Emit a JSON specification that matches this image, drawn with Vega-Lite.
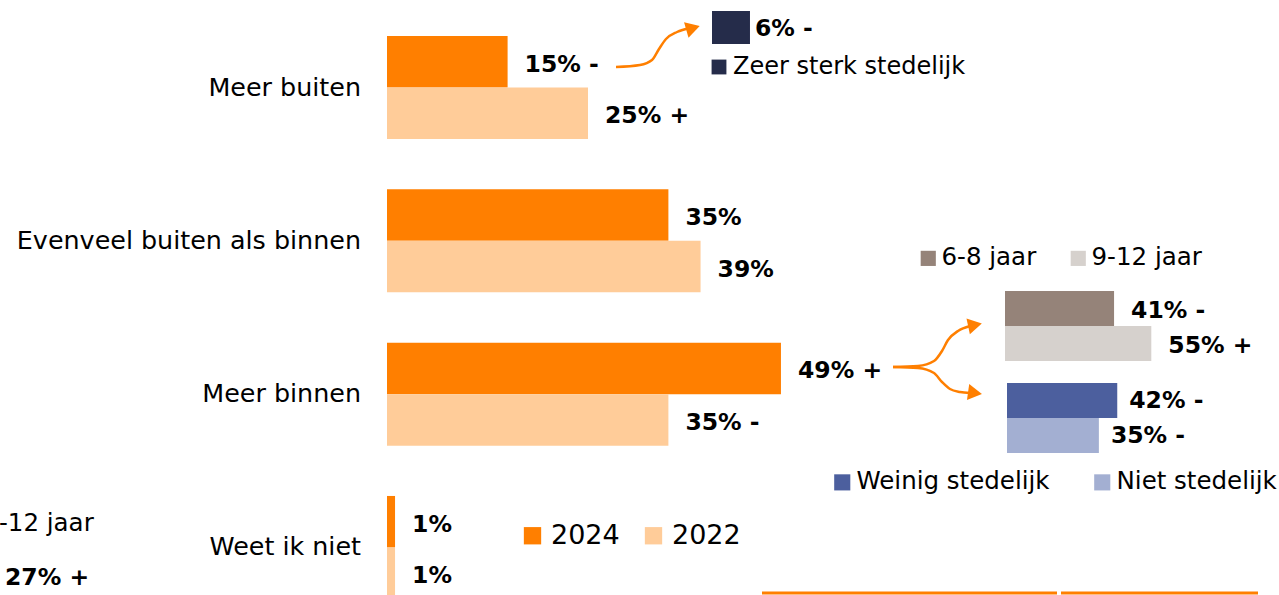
{
  "$schema": "https://vega.github.io/schema/vega-lite/v6.json",
  "width": 1279,
  "height": 595,
  "padding": 0,
  "autosize": {"type": "none"},
  "background": "#ffffff",
  "config": {
    "view": {"stroke": null},
    "font": "DejaVu Sans",
    "text": {"font": "DejaVu Sans", "color": "#000000"},
    "legend": {"labelFont": "DejaVu Sans", "labelColor": "#000000", "padding": 0, "symbolStrokeWidth": 0, "symbolOpacity": 1, "symbolType": "square", "title": null, "orient": "none", "direction": "horizontal", "labelLimit": 0}
  },
  "datasets": {
    "main": [
      {"answer": "Meer buiten", "year": "2024", "value": 15, "label": "15% -"},
      {"answer": "Meer buiten", "year": "2022", "value": 25, "label": "25% +"},
      {"answer": "Evenveel buiten als binnen", "year": "2024", "value": 35, "label": "35%"},
      {"answer": "Evenveel buiten als binnen", "year": "2022", "value": 39, "label": "39%"},
      {"answer": "Meer binnen", "year": "2024", "value": 49, "label": "49% +"},
      {"answer": "Meer binnen", "year": "2022", "value": 35, "label": "35% -"},
      {"answer": "Weet ik niet", "year": "2024", "value": 1, "label": "1%"},
      {"answer": "Weet ik niet", "year": "2022", "value": 1, "label": "1%"}
    ],
    "age": [
      {"group": "6-8 jaar", "value": 41, "label": "41% -"},
      {"group": "9-12 jaar", "value": 55, "label": "55% +"}
    ],
    "urban": [
      {"group": "Weinig stedelijk", "value": 42, "label": "42% -"},
      {"group": "Niet stedelijk", "value": 35, "label": "35% -"}
    ],
    "zeer": [
      {"group": "Zeer sterk stedelijk", "value": 6, "label": "6% -"}
    ],
    "arrows": [
      {"arrow": "a1", "i": 1, "px": 616, "py": 67},
      {"arrow": "a1", "i": 2, "px": 640, "py": 65},
      {"arrow": "a1", "i": 3, "px": 652, "py": 60},
      {"arrow": "a1", "i": 4, "px": 659, "py": 49},
      {"arrow": "a1", "i": 5, "px": 666, "py": 39},
      {"arrow": "a1", "i": 6, "px": 677, "py": 32},
      {"arrow": "a1", "i": 7, "px": 690, "py": 28},
      {"arrow": "a2", "i": 1, "px": 893, "py": 367},
      {"arrow": "a2", "i": 2, "px": 918, "py": 366},
      {"arrow": "a2", "i": 3, "px": 934, "py": 361},
      {"arrow": "a2", "i": 4, "px": 942, "py": 351},
      {"arrow": "a2", "i": 5, "px": 948, "py": 340},
      {"arrow": "a2", "i": 6, "px": 958, "py": 331},
      {"arrow": "a2", "i": 7, "px": 970, "py": 326},
      {"arrow": "a3", "i": 1, "px": 893, "py": 367},
      {"arrow": "a3", "i": 2, "px": 918, "py": 368},
      {"arrow": "a3", "i": 3, "px": 934, "py": 373},
      {"arrow": "a3", "i": 4, "px": 942, "py": 382},
      {"arrow": "a3", "i": 5, "px": 950, "py": 389},
      {"arrow": "a3", "i": 6, "px": 960, "py": 392},
      {"arrow": "a3", "i": 7, "px": 970, "py": 393}
    ],
    "heads": [
      {"arrow": "a1", "px": 693, "py": 28, "angle": -16},
      {"arrow": "a2", "px": 975, "py": 325, "angle": -12},
      {"arrow": "a3", "px": 975, "py": 393, "angle": 8}
    ],
    "rules": [
      {"x1": 762, "x2": 1057, "py": 593},
      {"x1": 1061, "x2": 1258, "py": 593}
    ],
    "cutLegend": [{"px": -1, "py": 524, "text": "-12 jaar"}],
    "cutValue": [{"px": 5, "py": 578, "text": "27% +"}]
  },
  "layer": [
    {
      "data": {"name": "main"},
      "layer": [
        {
          "mark": {"type": "bar"},
          "encoding": {
            "y": {"field": "answer", "type": "nominal", "axis": null, "sort": ["Meer buiten", "Evenveel buiten als binnen", "Meer binnen", "Weet ik niet"], "scale": {"domain": ["Meer buiten", "Evenveel buiten als binnen", "Meer binnen", "Weet ik niet"], "range": [36, 599], "paddingInner": 0.328, "paddingOuter": 0}},
            "yOffset": {"field": "year", "type": "nominal", "sort": ["2024", "2022"], "scale": {"domain": ["2024", "2022"], "paddingInner": 0, "paddingOuter": 0}},
            "x": {"field": "value", "type": "quantitative", "axis": null, "scale": {"domain": [0, 100], "range": [387, 1191], "nice": false, "zero": true}},
            "color": {"field": "year", "type": "nominal", "sort": ["2024", "2022"], "scale": {"domain": ["2024", "2022"], "range": ["#FF7F00", "#FFCC99"]}, "legend": {"legendX": 519, "legendY": 522, "symbolSize": 300, "labelFontSize": 27, "labelOffset": 5, "columnPadding": 20}}
          }
        },
        {
          "mark": {"type": "text", "align": "left", "baseline": "middle", "dx": 17, "dy": 3, "fontSize": 23.5, "fontWeight": "bold", "color": "#000000"},
          "encoding": {
            "y": {"field": "answer", "type": "nominal", "axis": null, "sort": ["Meer buiten", "Evenveel buiten als binnen", "Meer binnen", "Weet ik niet"]},
            "yOffset": {"field": "year", "type": "nominal", "sort": ["2024", "2022"]},
            "x": {"field": "value", "type": "quantitative", "axis": null},
            "text": {"field": "label"}
          }
        },
        {
          "transform": [{"filter": "datum.year == '2024'"}],
          "mark": {"type": "text", "align": "right", "baseline": "middle", "dx": -26, "fontSize": 25.4, "color": "#000000"},
          "encoding": {
            "y": {"field": "answer", "type": "nominal", "axis": null, "sort": ["Meer buiten", "Evenveel buiten als binnen", "Meer binnen", "Weet ik niet"]},
            "x": {"datum": 0, "type": "quantitative"},
            "text": {"field": "answer"}
          }
        }
      ]
    },
    {
      "data": {"name": "age"},
      "layer": [
        {
          "mark": {"type": "bar"},
          "encoding": {
            "y": {"field": "group", "type": "nominal", "axis": null, "sort": ["6-8 jaar", "9-12 jaar"], "scale": {"range": [291, 361], "paddingInner": 0, "paddingOuter": 0}},
            "x": {"field": "value", "type": "quantitative", "axis": null, "scale": {"domain": [0, 100], "range": [1005, 1271], "nice": false}},
            "color": {"field": "group", "type": "nominal", "sort": ["6-8 jaar", "9-12 jaar"], "scale": {"domain": ["6-8 jaar", "9-12 jaar"], "range": ["#958379", "#D6D1CD"]}, "legend": {"legendX": 916, "legendY": 246, "symbolSize": 230, "labelFontSize": 24.5, "labelOffset": 1, "columnPadding": 29}}
          }
        },
        {
          "mark": {"type": "text", "align": "left", "baseline": "middle", "dx": 17, "dy": 2, "fontSize": 23.5, "fontWeight": "bold", "color": "#000000"},
          "encoding": {
            "y": {"field": "group", "type": "nominal", "axis": null, "sort": ["6-8 jaar", "9-12 jaar"]},
            "x": {"field": "value", "type": "quantitative", "axis": null},
            "text": {"field": "label"}
          }
        }
      ]
    },
    {
      "data": {"name": "urban"},
      "layer": [
        {
          "mark": {"type": "bar"},
          "encoding": {
            "y": {"field": "group", "type": "nominal", "axis": null, "sort": ["Weinig stedelijk", "Niet stedelijk"], "scale": {"range": [383, 453], "paddingInner": 0, "paddingOuter": 0}},
            "x": {"field": "value", "type": "quantitative", "axis": null, "scale": {"domain": [0, 100], "range": [1007, 1269.5], "nice": false}},
            "color": {"field": "group", "type": "nominal", "sort": ["Weinig stedelijk", "Niet stedelijk"], "scale": {"domain": ["Weinig stedelijk", "Niet stedelijk"], "range": ["#4C5F9E", "#A3AFD2"]}, "legend": {"legendX": 830, "legendY": 470, "symbolSize": 260, "labelFontSize": 24.5, "labelOffset": 2, "columnPadding": 40}}
          }
        },
        {
          "mark": {"type": "text", "align": "left", "baseline": "middle", "dx": 12, "dy": 0, "fontSize": 23.5, "fontWeight": "bold", "color": "#000000"},
          "encoding": {
            "y": {"field": "group", "type": "nominal", "axis": null, "sort": ["Weinig stedelijk", "Niet stedelijk"]},
            "x": {"field": "value", "type": "quantitative", "axis": null},
            "text": {"field": "label"}
          }
        }
      ]
    },
    {
      "data": {"name": "zeer"},
      "layer": [
        {
          "mark": {"type": "bar"},
          "encoding": {
            "y": {"field": "group", "type": "nominal", "axis": null, "scale": {"range": [11, 44], "paddingInner": 0, "paddingOuter": 0}},
            "x": {"field": "value", "type": "quantitative", "axis": null, "scale": {"domain": [0, 100], "range": [712, 1345], "nice": false}},
            "color": {"field": "group", "type": "nominal", "scale": {"domain": ["Zeer sterk stedelijk"], "range": ["#252C4A"]}, "legend": {"legendX": 707, "legendY": 55, "symbolSize": 220, "labelFontSize": 24, "labelOffset": 2}}
          }
        },
        {
          "mark": {"type": "text", "align": "left", "baseline": "middle", "dx": 5, "dy": 1, "fontSize": 23.5, "fontWeight": "bold", "color": "#000000"},
          "encoding": {
            "y": {"field": "group", "type": "nominal", "axis": null},
            "x": {"field": "value", "type": "quantitative", "axis": null},
            "text": {"field": "label"}
          }
        }
      ]
    },
    {
      "layer": [
        {
          "data": {"name": "arrows"},
          "mark": {"type": "line", "color": "#FF7F00", "strokeWidth": 2.5, "interpolate": "monotone"},
          "encoding": {
            "x": {"field": "px", "type": "quantitative", "axis": null, "scale": {"domain": [0, 1279], "range": [0, 1279], "nice": false, "zero": false}},
            "y": {"field": "py", "type": "quantitative", "axis": null, "scale": {"domain": [0, 595], "range": [0, 595], "nice": false, "zero": false}},
            "detail": {"field": "arrow"},
            "order": {"field": "i", "type": "quantitative"}
          }
        },
        {
          "data": {"name": "heads"},
          "mark": {"type": "point", "shape": "triangle-right", "filled": true, "color": "#FF7F00", "opacity": 1, "size": 260},
          "encoding": {
            "x": {"field": "px", "type": "quantitative", "axis": null},
            "y": {"field": "py", "type": "quantitative", "axis": null},
            "angle": {"field": "angle", "type": "quantitative", "scale": null}
          }
        },
        {
          "data": {"name": "rules"},
          "mark": {"type": "rule", "color": "#FF7F00", "strokeWidth": 3},
          "encoding": {
            "x": {"field": "x1", "type": "quantitative", "axis": null},
            "x2": {"field": "x2"},
            "y": {"field": "py", "type": "quantitative", "axis": null}
          }
        },
        {
          "data": {"name": "cutLegend"},
          "mark": {"type": "text", "align": "left", "baseline": "middle", "fontSize": 24.5, "color": "#000000"},
          "encoding": {
            "x": {"field": "px", "type": "quantitative", "axis": null},
            "y": {"field": "py", "type": "quantitative", "axis": null},
            "text": {"field": "text"}
          }
        },
        {
          "data": {"name": "cutValue"},
          "mark": {"type": "text", "align": "left", "baseline": "middle", "fontSize": 23.5, "fontWeight": "bold", "color": "#000000"},
          "encoding": {
            "x": {"field": "px", "type": "quantitative", "axis": null},
            "y": {"field": "py", "type": "quantitative", "axis": null},
            "text": {"field": "text"}
          }
        }
      ]
    }
  ],
  "resolve": {"scale": {"x": "independent", "y": "independent", "color": "independent", "yOffset": "independent"}}
}
